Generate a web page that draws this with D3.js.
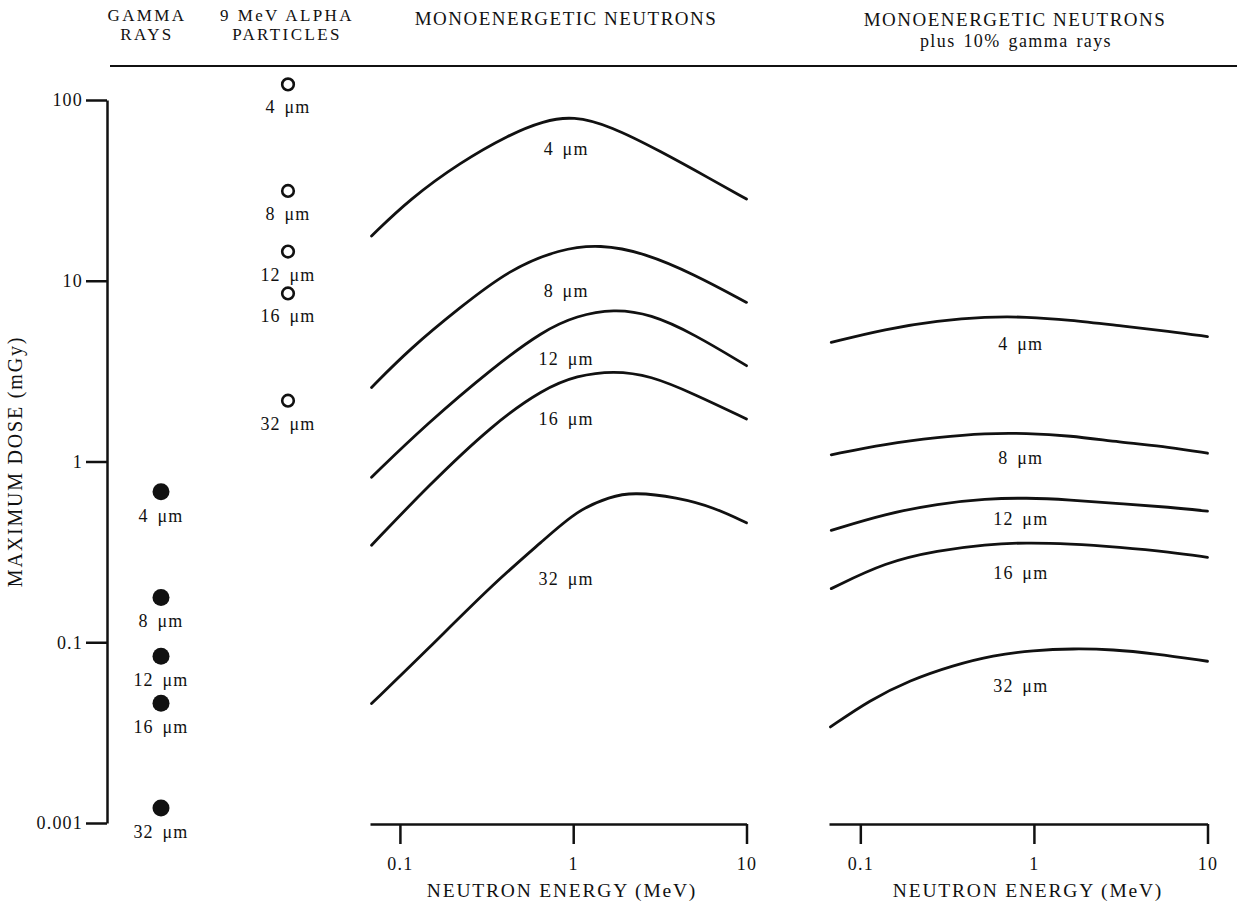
<!DOCTYPE html>
<html>
<head>
<meta charset="utf-8">
<script src="https://cdn.jsdelivr.net/npm/d3@7"></script>
<style>
  html, body { margin: 0; padding: 0; background: #fff; }
  svg { display: block; }
  text { font-family: "Liberation Serif", "Times New Roman", serif; fill: #111; }
</style>
</head>
<body>
<svg id="chart" width="1237" height="912"></svg>
<script>
// ---------------- DATA ----------------
const thicknesses = ["4 μm", "8 μm", "12 μm", "16 μm", "32 μm"];

// Single-point columns (dose in mGy)
const gammaDose = [0.68, 0.177, 0.0837, 0.046, 0.0121];
const alphaDose = [122, 31.4, 14.5, 8.51, 2.17];

// y axis ticks (labels as printed)
const yTickValues = [100, 10, 1, 0.1, 0.01];
const yTickLabels = ["100", "10", "1", "0.1", "0.001"];
const xTickValues = [0.1, 1, 10];
const xTickLabels = ["0.1", "1", "10"];

// Panel 1: monoenergetic neutrons (energy MeV, dose mGy)
const n4E  = [0.0686, 0.114, 0.222, 0.432, 0.673, 1.0, 1.64, 3.18, 6.19, 10.0];
const n4D  = [17.7, 28.3, 45.1, 64.7, 76.6, 81.6, 71.8, 52.1, 36.6, 28.3];
const n8E  = [0.0686, 0.114, 0.222, 0.432, 0.841, 1.43, 2.55, 4.96, 10.0];
const n8D  = [2.57, 4.20, 7.12, 11.6, 15.0, 15.9, 14.3, 10.9, 7.59];
const n12E = [0.0686, 0.143, 0.346, 0.673, 1.05, 1.71, 2.79, 4.96, 10.0];
const n12D = [0.819, 1.615, 3.32, 5.30, 6.41, 6.98, 6.55, 5.08, 3.39];
const n16E = [0.0686, 0.143, 0.346, 0.673, 1.05, 1.71, 2.79, 4.96, 10.0];
const n16D = [0.344, 0.721, 1.616, 2.52, 2.99, 3.18, 2.99, 2.37, 1.72];
const n32E = [0.0686, 0.143, 0.346, 0.673, 1.05, 1.64, 2.23, 3.98, 6.47, 10.0];
const n32D = [0.0458, 0.0903, 0.211, 0.366, 0.536, 0.641, 0.676, 0.634, 0.558, 0.458];

// Panel 2: monoenergetic neutrons plus 10% gamma rays
const gE   = [0.068, 0.14, 0.28, 0.53, 0.9, 1.6, 3.1, 6.1, 10.0];
const g4D  = [4.56, 5.41, 6.01, 6.32, 6.32, 6.07, 5.64, 5.25, 4.91];
const g8D  = [1.089, 1.253, 1.362, 1.433, 1.433, 1.392, 1.279, 1.200, 1.111];
const g12D = [0.416, 0.514, 0.584, 0.622, 0.630, 0.614, 0.584, 0.559, 0.531];
const g16D = [0.198, 0.278, 0.322, 0.348, 0.356, 0.351, 0.336, 0.316, 0.295];
const g32E = [0.0673, 0.1135, 0.193, 0.343, 0.582, 0.99, 1.685, 2.86, 4.87, 10.0];
const g32D = [0.0340, 0.0479, 0.0617, 0.0746, 0.0848, 0.0903, 0.0923, 0.0912, 0.0866, 0.0785];

// Curve label anchors (energy, dose)
const p1LabelE = 0.91;
const p1LabelD = [53.6, 8.81, 3.71, 1.73, 0.226];
const p2LabelE = 0.84;
const p2LabelD = [4.49, 1.052, 0.484, 0.244, 0.0578];

// ---------------- LAYOUT ----------------
const svg = d3.select("#chart");
const yTop = 100, yBottom = 823;
const y = d3.scaleLog().domain([0.01, 100]).range([yBottom, yTop]);

const x1 = d3.scaleLog().domain([0.0672, 10]).range([370, 746.5]);
const x2 = d3.scaleLog().domain([0.066, 10]).range([829, 1207.5]);
const xAxisY = 824;

const colX = d3.scaleOrdinal().domain(["gamma", "alpha"]).range([161, 288]);

const serifTxt = (sel, size, ls, ws) => sel
  .style("font-size", size + "px")
  .style("letter-spacing", (ls || 0) + "px")
  .style("word-spacing", (ws || 0) + "px");

// ---------------- HEADERS ----------------
const headersSmall = [
  { t: "GAMMA", x: 147, y: 21 },
  { t: "RAYS", x: 147, y: 40 },
  { t: "9 MeV  ALPHA", x: 287, y: 21 },
  { t: "PARTICLES", x: 287, y: 40 }
];
headersSmall.forEach(h => {
  svg.append("text").attr("x", h.x).attr("y", h.y)
    .attr("text-anchor", "middle").text(h.t)
    .call(serifTxt, 17, 2.4, 0);
});
[{ x: 566, y: 25 }, { x: 1015, y: 26 }].forEach(h => {
  svg.append("text").attr("x", h.x).attr("y", h.y)
    .attr("text-anchor", "middle").text("MONOENERGETIC  NEUTRONS")
    .call(serifTxt, 19, 1.5, 0);
});
svg.append("text").attr("x", 1016).attr("y", 46.5)
  .attr("text-anchor", "middle").text("plus 10% gamma rays")
  .call(serifTxt, 18, 1.4, 2);

svg.append("line").attr("x1", 110).attr("x2", 1237).attr("y1", 66).attr("y2", 66)
  .attr("stroke", "#111").attr("stroke-width", 2);

// ---------------- Y AXIS ----------------
const yAxis = d3.axisLeft(y)
  .tickValues(yTickValues)
  .tickFormat((d, i) => yTickLabels[i])
  .tickSize(21).tickSizeOuter(0).tickPadding(3);
const gy = svg.append("g").attr("transform", "translate(107,0)").call(yAxis);
gy.select(".domain").attr("stroke", "#111").attr("stroke-width", 2.5);
gy.selectAll(".tick line").attr("stroke", "#111").attr("stroke-width", 2.5);
gy.selectAll(".tick text").attr("fill", "#111")
  .style("font-family", '"Liberation Serif", serif')
  .call(serifTxt, 18, 1.2, 0);

svg.append("text")
  .attr("transform", "translate(22," + ((yTop + yBottom) / 2) + ") rotate(-90)")
  .attr("text-anchor", "middle").text("MAXIMUM  DOSE  (mGy)")
  .call(serifTxt, 20, 1.8, 0);

// ---------------- X AXES ----------------
[x1, x2].forEach((xs, k) => {
  const ax = d3.axisBottom(xs).tickValues(xTickValues)
    .tickFormat((d, i) => xTickLabels[i])
    .tickSize(20).tickSizeOuter(0).tickPadding(13);
  const g = svg.append("g").attr("transform", "translate(0," + xAxisY + ")").call(ax);
  g.select(".domain").attr("stroke", "#111").attr("stroke-width", 2.5);
  g.selectAll(".tick line").attr("stroke", "#111").attr("stroke-width", 2.5);
  g.selectAll(".tick text").attr("fill", "#111")
    .style("font-family", '"Liberation Serif", serif')
    .call(serifTxt, 18, 1.2, 0);
  svg.append("text").attr("x", k === 0 ? 562 : 1028).attr("y", 897)
    .attr("text-anchor", "middle").text("NEUTRON  ENERGY  (MeV)")
    .call(serifTxt, 19.5, 1.8, 0);
});

// ---------------- POINT COLUMNS ----------------
const labelSize = 18;
gammaDose.forEach((d, i) => {
  svg.append("circle").attr("cx", colX("gamma")).attr("cy", y(d)).attr("r", 8.5)
    .attr("fill", "#111");
  svg.append("text").attr("x", colX("gamma")).attr("y", y(d) + 30)
    .attr("text-anchor", "middle").text(thicknesses[i])
    .call(serifTxt, labelSize, 1.2, 3);
});
alphaDose.forEach((d, i) => {
  svg.append("circle").attr("cx", colX("alpha")).attr("cy", y(d)).attr("r", 5.8)
    .attr("fill", "none").attr("stroke", "#111").attr("stroke-width", 2.6);
  svg.append("text").attr("x", colX("alpha")).attr("y", y(d) + 29)
    .attr("text-anchor", "middle").text(thicknesses[i])
    .call(serifTxt, labelSize, 1.2, 3);
});

// ---------------- CURVES ----------------
const zip = (E, D) => E.map((e, i) => [e, D[i]]);
const panel1 = [zip(n4E, n4D), zip(n8E, n8D), zip(n12E, n12D), zip(n16E, n16D), zip(n32E, n32D)];
const panel2 = [zip(gE, g4D), zip(gE, g8D), zip(gE, g12D), zip(gE, g16D), zip(g32E, g32D)];

function drawPanel(series, xs, labelE, labelD) {
  const line = d3.line().x(p => xs(p[0])).y(p => y(p[1]))
    .curve(d3.curveBasis);
  svg.append("g").selectAll("path").data(series).join("path")
    .attr("d", line).attr("fill", "none")
    .attr("stroke", "#111").attr("stroke-width", 2.8)
    .attr("stroke-linecap", "round");
  svg.append("g").selectAll("text").data(labelD).join("text")
    .attr("x", xs(labelE)).attr("y", d => y(d))
    .attr("dy", "0.35em").attr("text-anchor", "middle")
    .text((d, i) => thicknesses[i])
    .call(serifTxt, labelSize, 1.2, 3);
}
drawPanel(panel1, x1, p1LabelE, p1LabelD);
drawPanel(panel2, x2, p2LabelE, p2LabelD);
</script>
</body>
</html>
